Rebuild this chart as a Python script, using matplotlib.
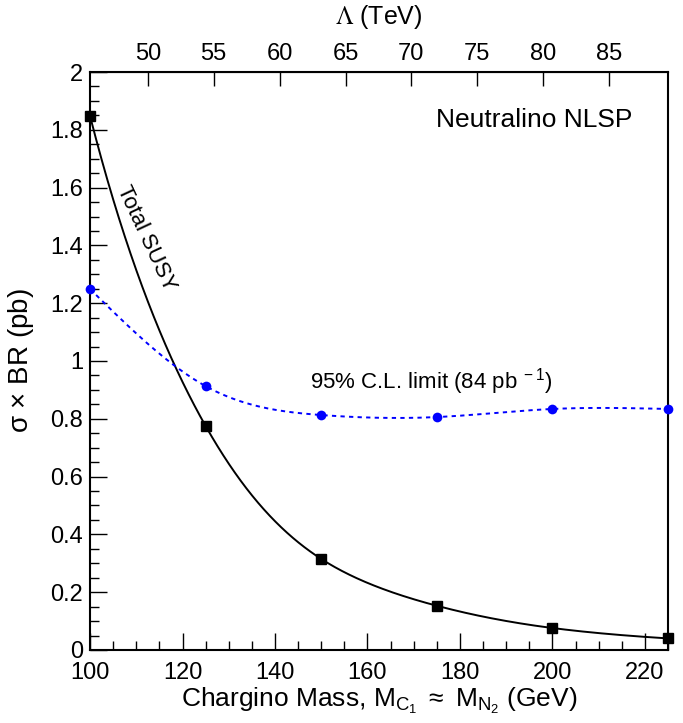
import numpy as np
import matplotlib
matplotlib.use("Agg")
import matplotlib.pyplot as plt

plt.rcParams['font.family'] = ['Liberation Sans', 'DejaVu Sans']
plt.rcParams['mathtext.fontset'] = 'custom'
plt.rcParams['mathtext.rm'] = 'Liberation Sans'
plt.rcParams['mathtext.it'] = 'Liberation Sans'

# chargino mass (GeV)
mass = [100, 125, 150, 175, 200, 225]
# total SUSY cross section x BR (pb)
susy = [1.848, 0.775, 0.315, 0.153, 0.076, 0.040]
# 95% C.L. limit (pb)
limit = [1.249, 0.913, 0.813, 0.806, 0.834, 0.834]

tick_font = ['Liberation Sans Narrow', 'Liberation Sans', 'DejaVu Sans']


def natural_spline(x, y, xs):
    #natural cubic spline, just numpy
    x = np.asarray(x, float)
    y = np.asarray(y, float)
    n = len(x)
    h = np.diff(x)
    A = np.zeros((n, n))
    b = np.zeros(n)
    A[0, 0] = 1
    A[-1, -1] = 1
    for i in range(1, n - 1):
        A[i, i - 1] = h[i - 1]
        A[i, i] = 2 * (h[i - 1] + h[i])
        A[i, i + 1] = h[i]
        b[i] = 6 * ((y[i + 1] - y[i]) / h[i] - (y[i] - y[i - 1]) / h[i - 1])
    M = np.linalg.solve(A, b)
    idx = np.clip(np.searchsorted(x, xs) - 1, 0, n - 2)
    x0 = x[idx]
    x1 = x[idx + 1]
    hh = h[idx]
    t0 = x1 - xs
    t1 = xs - x0
    ys = (M[idx] * t0**3 + M[idx + 1] * t1**3) / (6 * hh) \
        + (y[idx] / hh - M[idx] * hh / 6) * t0 \
        + (y[idx + 1] / hh - M[idx + 1] * hh / 6) * t1
    return ys


fig = plt.figure(figsize=(6.83, 7.23), dpi=100)
ax = fig.add_axes([0.1318, 0.101, 0.8463, 0.7994])

xs = np.linspace(100, 225, 400)
ax.plot(xs, np.exp(natural_spline(mass, np.log(susy), xs)), color='black', lw=1.4, zorder=2)
ax.plot(mass, susy, 's', color='black', ms=7, zorder=3, clip_on=False)
ax.plot(xs, natural_spline(mass, limit, xs), color='blue', lw=1.4, dashes=(2.2, 2.2), zorder=2)
ax.plot(mass, limit, 'o', color='blue', ms=7, zorder=3, clip_on=False, mec='none')

ax.set_xlim(100, 225)
ax.set_ylim(0, 2)
ax.set_xticks(np.arange(100, 221, 20))
ax.set_xticks(np.arange(100, 226, 5), minor=True)
ax.set_yticks(np.arange(0, 2.01, 0.2))
ax.set_yticklabels(['0', '0.2', '0.4', '0.6', '0.8', '1', '1.2', '1.4', '1.6', '1.8', '2'])
ax.set_yticks(np.arange(0, 2.01, 0.05), minor=True)
ax.tick_params(axis='both', which='major', direction='in', length=12, width=1)
ax.tick_params(axis='both', which='minor', direction='in', length=6.5, width=1)
ax.tick_params(axis='x', which='major', pad=9)
ax.tick_params(axis='y', which='major', pad=5)
ax.tick_params(axis='x', which='both', top=False)
ax.tick_params(axis='y', which='both', right=False)
for lab in ax.get_xticklabels() + ax.get_yticklabels():
    lab.set_family(tick_font)
    lab.set_fontsize(17)
for s in ax.spines.values():
    s.set_linewidth(1.5)

ax.set_xlabel(r'Chargino Mass, M$_{\mathrm{C}_1}$ $\approx$ M$_{\mathrm{N}_2}$ (GeV)', fontsize=19, labelpad=1)
ax.set_ylabel(r'$\sigma$ $\times$ BR (pb)', fontsize=20, labelpad=10)

# top axis: Lambda (TeV)
top = ax.secondary_xaxis('top', functions=(lambda m: (m + 30) / 2.85, lambda l: 2.85 * l - 30))
top.set_xticks(np.arange(50, 86, 5))
top.tick_params(direction='in', length=10, width=1, pad=5)
for lab in top.get_xticklabels():
    lab.set_family(tick_font)
    lab.set_fontsize(17)
top.set_xlabel(r'$\Lambda$ (TeV)', fontsize=18, labelpad=14, math_fontfamily='stix')

ax.text(0.939, 0.917, 'Neutralino NLSP', transform=ax.transAxes, ha='right', va='center', fontsize=19)
ax.text(112.2, 1.425, 'Total SUSY', rotation=-65, ha='center', va='center', fontsize=16)
ax.text(147.5, 0.93, r'95% C.L. limit (84 pb$^{\ -1}$)', ha='left', va='center', fontsize=16)

fig.savefig('out.png', dpi=100)
